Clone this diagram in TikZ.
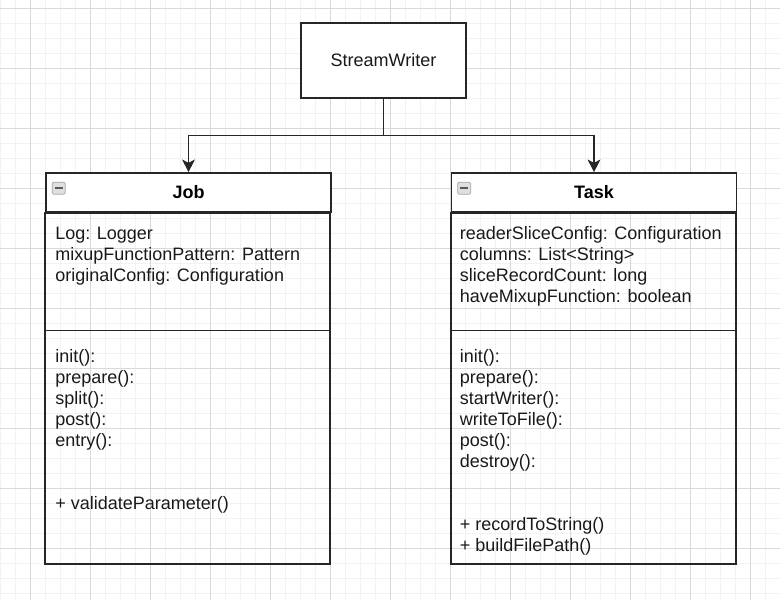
\documentclass[tikz,border=0pt]{standalone}
\usepackage{fontspec}
\setmainfont{Liberation Sans}
\usepackage{tikz}
\usetikzlibrary{positioning,arrows.meta,calc}

\newcommand{\px}{0.75pt}
\newcommand{\umlfont}{\fontsize{13.5pt}{15.75pt}\selectfont}

\tikzset{
  minorgrid/.style={draw=black!5,line width=0.75pt},
  majorgrid/.style={draw=black!15,line width=0.75pt},
  classline/.style={draw=black!85,line width=1.2pt},
  classhead/.style={classline,fill=white,minimum width=285*\px,minimum height=39*\px,inner sep=0pt,font=\umlfont\bfseries},
  member/.style={anchor=base west,inner sep=0pt,text=black!90},
  togglebox/.style={draw=gray!70,fill=gray!25,rounded corners=1pt,line width=0.6pt},
  link/.style={draw=black!85,line width=1.25pt}
}

\begin{document}
\begin{tikzpicture}[x=\px,y=-\px,>={Stealth[length=9.5pt,width=9.5pt,inset=2.5pt]},font=\umlfont]
\useasboundingbox (0,0) rectangle (780,600);
% grid
\foreach \gx in {0,15,...,780} \draw[minorgrid] (\gx,0) -- (\gx,600);
\foreach \gy in {8,23,...,600} \draw[minorgrid] (0,\gy) -- (780,\gy);
\foreach \gx in {30,90,...,780} \draw[majorgrid] (\gx,0) -- (\gx,600);
\foreach \gy in {8,68,...,600} \draw[majorgrid] (0,\gy) -- (780,\gy);

% base class
\node[classline,fill=white,text=black!90,minimum width=165*\px,minimum height=75*\px] (sw) at (383.5,60.5) {StreamWriter};

% Job
\node[classhead] (job) at (188.5,192.5) {Job};
\draw[classline] (job.south west) rectangle ++(285,351);
\draw[classline] ($(job.south west)+(0,117.5)$) -- ++(285,0);
\draw[togglebox] ($(job.north west)+(7,10)$) rectangle ++(13,12);
\draw[black!65,line width=1.2pt] ($(job.north west)+(9.5,16)$) -- ++(8,0);
\foreach \m [count=\i from 0] in {Log: Logger,mixupFunctionPattern: Pattern,originalConfig: Configuration}
  \node[member] (jobattr\i) at (55,239+21*\i) {\m};
\foreach \m/\i in {init():/0,prepare():/1,split():/2,post():/3,entry():/4,+ validateParameter()/7}
  \node[member] (jobop\i) at (55,362+21*\i) {\m};

% Task
\node[classhead] (task) at (594,192.5) {Task};
\draw[classline] (task.south west) rectangle ++(285,351);
\draw[classline] ($(task.south west)+(0,117.5)$) -- ++(285,0);
\draw[togglebox] ($(task.north west)+(7,10)$) rectangle ++(13,12);
\draw[black!65,line width=1.2pt] ($(task.north west)+(9.5,16)$) -- ++(8,0);
\foreach \m [count=\i from 0] in {readerSliceConfig: Configuration,columns: List<String>,sliceRecordCount: long,haveMixupFunction: boolean}
  \node[member] (taskattr\i) at (459.5,239+21*\i) {\m};
\foreach \m/\i in {init():/0,prepare():/1,startWriter():/2,writeToFile():/3,post():/4,destroy():/5,+ recordToString()/8,+ buildFilePath()/9}
  \node[member] (taskop\i) at (459.5,362+21*\i) {\m};

% inheritance links
\coordinate (fork) at (383.5,135.5);
\draw[link] (sw.south) -- (fork);
\draw[link,->] (fork) -| (job.north);
\draw[link,->] (fork) -| (task.north);
\end{tikzpicture}
\end{document}
